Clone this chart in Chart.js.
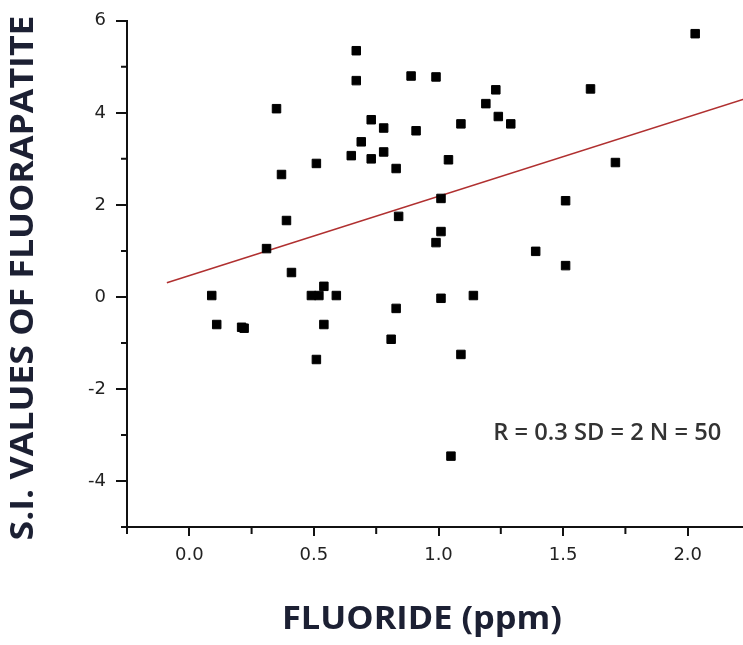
<!DOCTYPE html>
<html>
<head>
<meta charset="utf-8">
<script src="https://cdn.jsdelivr.net/npm/chart.js@4"></script>
<style>
    html, body { margin: 0; padding: 0; background: #fff; overflow: hidden; }
    canvas { display: block; }
</style>
</head>
<body>
<canvas id="fluorideChart" width="757" height="645"></canvas>
<script>
// Fluoride (ppm) vs S.I. values of fluorapatite
const fluoride = [
    0.09, 0.11, 0.21, 0.22, 0.31, 0.35, 0.37, 0.39, 0.41, 0.49,
    0.52, 0.51, 0.51, 0.54, 0.54, 0.59, 0.65, 0.67, 0.67, 0.69,
    0.73, 0.73, 0.78, 0.78, 0.83, 0.81, 0.83, 0.84, 0.89, 0.91,
    0.99, 0.99, 1.01, 1.01, 1.01, 1.04, 1.05, 1.09, 1.09, 1.14,
    1.19, 1.23, 1.24, 1.29, 1.39, 1.51, 1.51, 1.61, 1.71, 2.03
];
const siValues = [
    0.03, -0.60, -0.66, -0.68, 1.05, 4.09, 2.66, 1.66, 0.53, 0.03,
    0.03, -1.36, 2.90, 0.23, -0.60, 0.03, 3.07, 5.35, 4.70, 3.37,
    3.85, 3.00, 3.67, 3.15, 2.79, -0.92, -0.25, 1.75, 4.80, 3.61,
    4.78, 1.18, 1.42, -0.03, 2.14, 2.98, -3.46, -1.25, 3.76, 0.03,
    4.20, 4.50, 3.92, 3.76, 0.99, 0.68, 2.09, 4.52, 2.92, 5.72
];

// Linear fit line
const fitX = [-0.09, 2.25];
const fitY = [0.31, 4.34];

const xTicks = [-0.25, 0, 0.25, 0.5, 0.75, 1.0, 1.25, 1.5, 1.75, 2.0, 2.25];
const yTicks = [-5, -4, -3, -2, -1, 0, 1, 2, 3, 4, 5, 6];

const statsText = 'R = 0.3 SD = 2 N = 50';
const xTitle = 'FLUORIDE (ppm)';
const yTitle = 'S.I. VALUES OF FLUORAPATITE';

const isMajorX = v => Math.abs(v * 2 - Math.round(v * 2)) < 1e-9;
const isMajorY = v => v % 2 === 0;

const pointData = fluoride.map((x, i) => ({ x: x, y: siValues[i] }));
const fitData = fitX.map((x, i) => ({ x: x, y: fitY[i] }));

// draw text squeezed/stretched to a given width
function fitText(ctx, text, x, y, width) {
    const sx = width / ctx.measureText(text).width;
    ctx.save();
    ctx.translate(x, y);
    ctx.scale(sx, 1);
    ctx.fillText(text, 0, 0);
    ctx.restore();
}

// short minor ticks + titles + stats text
const extras = {
    id: 'extras',
    afterDraw(chart) {
        const ctx = chart.ctx;
        const area = chart.chartArea;
        const xs = chart.scales.x;
        const ys = chart.scales.y;
        ctx.save();
        ctx.strokeStyle = '#111';
        ctx.lineWidth = 2;
        ctx.beginPath();
        xTicks.filter(v => !isMajorX(v)).forEach(v => {
            const px = xs.getPixelForValue(v);
            ctx.moveTo(px, area.bottom);
            ctx.lineTo(px, area.bottom + 7);
        });
        yTicks.filter(v => !isMajorY(v)).forEach(v => {
            const py = ys.getPixelForValue(v);
            ctx.moveTo(area.left - 6, py);
            ctx.lineTo(area.left, py);
        });
        ctx.stroke();

        ctx.fillStyle = '#333';
        ctx.font = '600 23px "Open Sans"';
        ctx.textAlign = 'left';
        ctx.textBaseline = 'middle';
        fitText(ctx, statsText, xs.getPixelForValue(1.22), ys.getPixelForValue(-2.96), 228);

        ctx.fillStyle = '#1c2033';
        ctx.font = 'bold 32px "Open Sans"';
        ctx.textAlign = 'center';
        fitText(ctx, xTitle, 422, 620, 280);

        ctx.translate(24, 278);
        ctx.rotate(-Math.PI / 2);
        fitText(ctx, yTitle, 0, 0, 525);
        ctx.restore();
    }
};

const config = {
    type: 'scatter',
    data: {
        datasets: [{
            label: 'S.I.',
            data: pointData,
            pointStyle: 'rect',
            radius: 6,
            backgroundColor: '#000',
            borderColor: '#000',
            borderWidth: 1
        }, {
            label: 'Fit',
            data: fitData,
            showLine: true,
            pointRadius: 0,
            borderColor: '#b03030',
            borderWidth: 1.6
        }]
    },
    options: {
        responsive: false,
        animation: false,
        layout: { padding: { top: 20, right: 0, bottom: 0, left: 0 } },
        plugins: {
            legend: { display: false },
            tooltip: { enabled: false }
        },
        scales: {
            x: {
                type: 'linear',
                min: -0.25,
                max: 2.25,
                afterBuildTicks: s => { s.ticks = xTicks.map(v => ({ value: v })); },
                afterFit: s => { s.height = 118; s.paddingLeft = 0; s.paddingRight = 0; },
                border: { display: true, color: '#111', width: 2 },
                grid: {
                    drawOnChartArea: false,
                    tickLength: 9,
                    lineWidth: 2,
                    color: c => isMajorX(c.tick.value) ? '#111' : 'rgba(0,0,0,0)'
                },
                ticks: {
                    padding: 9,
                    color: '#222',
                    font: { family: 'DejaVu Sans', size: 18 },
                    callback: v => isMajorX(v) && v >= 0 && v <= 2 ? v.toFixed(1) : ''
                }
            },
            y: {
                type: 'linear',
                min: -5,
                max: 6,
                afterBuildTicks: s => { s.ticks = yTicks.map(v => ({ value: v })); },
                afterFit: s => { s.width = 127; },
                border: { display: true, color: '#111', width: 2 },
                grid: {
                    drawOnChartArea: false,
                    tickLength: 11,
                    lineWidth: 2,
                    color: c => isMajorY(c.tick.value) ? '#111' : 'rgba(0,0,0,0)'
                },
                ticks: {
                    padding: 10,
                    color: '#222',
                    font: { family: 'DejaVu Sans', size: 18 },
                    callback: v => isMajorY(v) ? String(v) : ''
                }
            }
        }
    },
    plugins: [extras]
};

const fluorideChart = new Chart(
    document.getElementById('fluorideChart'),
    config
);
</script>
</body>
</html>
